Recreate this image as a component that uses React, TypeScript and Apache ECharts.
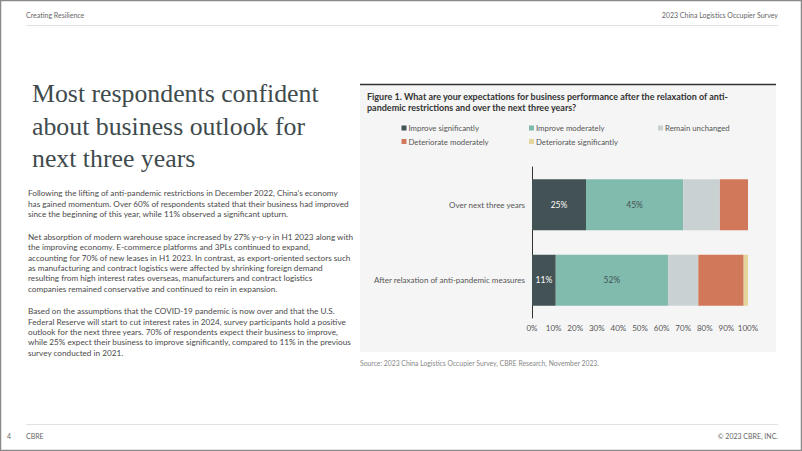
import React, { useEffect, useRef } from "react";
import * as echarts from "echarts";

const categories = ["Over next three years", "After relaxation of anti-pandemic measures"];
const seriesNames = [
  "Improve significantly",
  "Improve moderately",
  "Remain unchanged",
  "Deteriorate moderately",
  "Deteriorate significantly",
];
const improveSignificantly = [25, 11];
const improveModerately = [45, 52];
const remainUnchanged = [17, 14];
const deteriorateModerately = [13, 21];
const deteriorateSignificantly = [0, 2];
const seriesColors = ["#435254", "#80bbad", "#cad1d3", "#d2785a", "#e3d59b"];
const labelColors = ["#ffffff", "#435254", "", "", ""];
const xTicks = [0, 10, 20, 30, 40, 50, 60, 70, 80, 90, 100];

const titleLines = ["Most respondents confident", "about business outlook for", "next three years"];
const paragraphs = [
  [
    "Following the lifting of anti-pandemic restrictions in December 2022, China's economy",
    "has gained momentum. Over 60% of respondents stated that their business had improved",
    "since the beginning of this year, while 11% observed a significant upturn.",
  ],
  [
    "Net absorption of modern warehouse space increased by 27% y-o-y in H1 2023 along with",
    "the improving economy. E-commerce platforms and 3PLs continued to expand,",
    "accounting for 70% of new leases in H1 2023. In contrast, as export-oriented sectors such",
    "as manufacturing and contract logistics were affected by shrinking foreign demand",
    "resulting from high interest rates overseas, manufacturers and contract logistics",
    "companies remained conservative and continued to rein in expansion.",
  ],
  [
    "Based on the assumptions that the COVID-19 pandemic is now over and that the U.S.",
    "Federal Reserve will start to cut interest rates in 2024, survey participants hold a positive",
    "outlook for the next three years. 70% of respondents expect their business to improve,",
    "while 25% expect their business to improve significantly, compared to 11% in the previous",
    "survey conducted in 2021.",
  ],
];
const paragraphTops = [193.3, 237, 311.3];
const figureTitle = [
  "Figure 1. What are your expectations for business performance after the relaxation of anti-",
  "pandemic restrictions and over the next three years?",
];
const sourceText = "Source: 2023 China Logistics Occupier Survey, CBRE Research, November 2023.";

const SANS = "Lato, Roboto, sans-serif";

export default function App() {
  const ref = useRef<HTMLDivElement>(null);
  useEffect(() => {
    document.body.style.margin = "0";
    const chart = echarts.init(ref.current!, null, { renderer: "svg" });
    const values = [
      improveSignificantly,
      improveModerately,
      remainUnchanged,
      deteriorateModerately,
      deteriorateSignificantly,
    ];
    const series = seriesNames.map((name, i) => ({
      name,
      type: "bar",
      stack: "total",
      barWidth: 51,
      data: values[i],
      itemStyle: { color: seriesColors[i] },
      label: {
        show: i < 2,
        position: "inside",
        formatter: "{c}%",
        color: labelColors[i] || "#435254",
        fontFamily: SANS,
        fontSize: 8.5,
      },
    }));

    const legendPos = [
      { left: 401.5, top: 124 },
      { left: 529, top: 124 },
      { left: 658, top: 124 },
      { left: 401.5, top: 137.5 },
      { left: 529, top: 137.5 },
    ];
    const legends = seriesNames.map((name, i) => ({
      data: [name],
      left: legendPos[i].left,
      top: legendPos[i].top,
      padding: 0,
      itemWidth: 5,
      itemHeight: 5,
      icon: "rect",
      selectedMode: false,
      textStyle: { fontFamily: SANS, fontSize: 7.8, color: "#555", padding: [0, 0, 0, -3] },
    }));

    const graphics: any[] = [];
    graphics.push({
      type: "rect",
      shape: { x: 0.5, y: 0.5, width: 801, height: 450 },
      style: { fill: "none", stroke: "#8a8a8a", lineWidth: 1.5 },
      silent: true,
    });
    graphics.push({
      type: "text",
      left: 26,
      top: 11,
      style: { text: "Creating Resilience", fontFamily: SANS, fontSize: 7, fill: "#666" },
    });
    graphics.push({
      type: "text",
      right: 24,
      top: 11,
      style: { text: "2023 China Logistics Occupier Survey", fontFamily: SANS, fontSize: 7, fill: "#666" },
    });
    graphics.push({
      type: "line",
      shape: { x1: 26, y1: 25.5, x2: 778, y2: 25.5 },
      style: { stroke: "#e2e2e2", lineWidth: 1 },
    });
    graphics.push({
      type: "line",
      shape: { x1: 26, y1: 424.5, x2: 778, y2: 424.5 },
      style: { stroke: "#e2e2e2", lineWidth: 1 },
    });
    graphics.push({
      type: "text",
      left: 7,
      top: 432,
      style: { text: "4", fontFamily: SANS, fontSize: 7, fill: "#666" },
    });
    graphics.push({
      type: "text",
      left: 26,
      top: 432,
      style: { text: "CBRE", fontFamily: SANS, fontSize: 7, fill: "#666" },
    });
    graphics.push({
      type: "text",
      right: 24,
      top: 432,
      style: { text: "© 2023 CBRE, INC.", fontFamily: SANS, fontSize: 7, fill: "#666" },
    });
    const titleYs = [93, 126, 158];
    titleLines.forEach((t, i) => {
      graphics.push({
        type: "text",
        x: 32,
        y: titleYs[i],
        style: {
          text: t,
          fontFamily: "'Liberation Serif', serif",
          fontSize: 25.8,
          fill: "#3f4b4d",
          textVerticalAlign: "middle",
        },
      });
    });
    paragraphs.forEach((lines, p) => {
      lines.forEach((line, j) => {
        graphics.push({
          type: "text",
          x: 28,
          y: paragraphTops[p] + j * 10.3,
          style: {
            text: line,
            fontFamily: SANS,
            fontSize: 8.2,
            fill: "#4a4a4a",
            textVerticalAlign: "middle",
          },
        });
      });
    });
    graphics.push({
      type: "rect",
      shape: { x: 360, y: 84, width: 416, height: 268 },
      style: { fill: "#f5f5f5" },
      z: -10,
    });
    graphics.push({
      type: "line",
      shape: { x1: 360, y1: 84.5, x2: 776, y2: 84.5 },
      style: { stroke: "#333", lineWidth: 1.5 },
    });
    figureTitle.forEach((t, i) => {
      graphics.push({
        type: "text",
        x: 367,
        y: 96 + i * 11.5,
        style: {
          text: t,
          fontFamily: SANS,
          fontWeight: "bold",
          fontSize: 9,
          fill: "#333",
          textVerticalAlign: "middle",
        },
      });
    });
    graphics.push({
      type: "text",
      x: 360,
      y: 362.5,
      style: {
        text: sourceText,
        fontFamily: SANS,
        fontSize: 6.8,
        fill: "#888",
        textVerticalAlign: "middle",
      },
    });

    chart.setOption({
      animation: false,
      backgroundColor: "#ffffff",
      legend: legends,
      grid: { left: 532, right: 54, top: 167, bottom: 133, containLabel: false },
      xAxis: {
        type: "value",
        min: 0,
        max: 100,
        interval: 10,
        axisLine: { show: false },
        axisTick: { show: false },
        splitLine: { show: false },
        axisLabel: {
          formatter: (v: number) => (xTicks.includes(v) ? v + "%" : ""),
          fontFamily: SANS,
          fontSize: 8,
          color: "#555",
          margin: 6,
        },
      },
      yAxis: {
        type: "category",
        data: categories,
        inverse: true,
        axisLine: { show: true, lineStyle: { color: "#333", width: 1 } },
        axisTick: { show: false },
        axisLabel: { fontFamily: SANS, fontSize: 8, color: "#555", margin: 7 },
      },
      series,
      graphic: graphics,
    });
    return () => chart.dispose();
  }, []);
  return (
    <div
      ref={ref}
      style={{ position: "absolute", left: 0, top: 0, width: 802, height: 451 }}
    />
  );
}
